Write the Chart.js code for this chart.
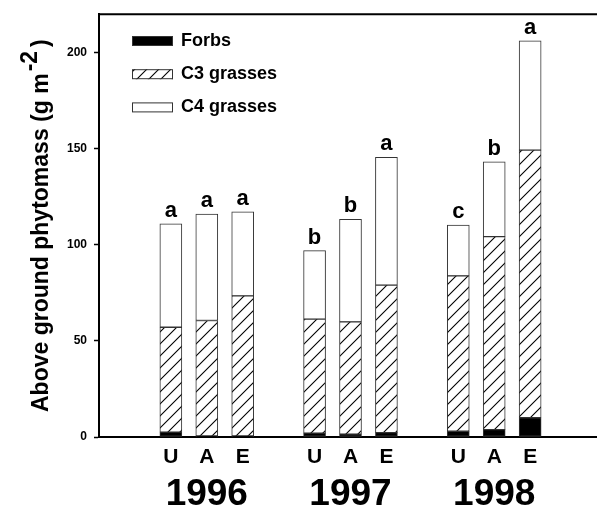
<!DOCTYPE html>
<html>
<head>
<meta charset="utf-8">
<script src="https://cdn.jsdelivr.net/npm/chart.js@4.4.1/dist/chart.umd.min.js"></script>
<style>
  html, body { margin: 0; padding: 0; background: #fff; overflow: hidden; }
  #wrap { width: 602px; height: 508px; }
</style>
</head>
<body>
<div id="wrap"><canvas id="chart"></canvas></div>
<script>
const years = ['1996', '1997', '1998'];
const treatments = ['U', 'A', 'E'];
// one value per bar: 1996 U,A,E / 1997 U,A,E / 1998 U,A,E  (g m-2)
const forbs = [2.5, 0.5, 0.5, 2.0, 1.5, 2.3, 3.0, 3.8, 10.0];
const c3Grasses = [54.6, 60.1, 72.9, 59.3, 58.4, 76.7, 80.8, 100.5, 139.3];
const c4Grasses = [53.8, 55.4, 43.8, 35.7, 53.3, 66.5, 26.5, 38.9, 56.8];
const letters = ['a', 'a', 'a', 'b', 'b', 'a', 'c', 'b', 'a'];
const yTicks = [0, 50, 100, 150, 200];

const FONT = '"Liberation Sans", Arial, Helvetica, sans-serif';
Chart.defaults.font.family = FONT;
Chart.defaults.color = '#000';

// lay the bars on a category axis, with empty slots between the years
const slotLabels = [];
const slotYears = [];
const slotIndex = [];
function blank() { slotLabels.push(''); slotYears.push(''); slotIndex.push(-1); }
blank(); blank();
years.forEach((yr, g) => {
  treatments.forEach((t, j) => {
    slotLabels.push(t);
    slotYears.push(j === 1 ? yr : '');
    slotIndex.push(g * 3 + j);
  });
  blank();
});
blank();
const spread = (arr) => slotIndex.map(i => (i < 0 ? null : arr[i]));

const ctx = document.getElementById('chart').getContext('2d');

function makeHatch() {
  const c = document.createElement('canvas');
  c.width = 12; c.height = 12;
  const g = c.getContext('2d');
  g.fillStyle = '#fff';
  g.fillRect(0, 0, 12, 12);
  g.strokeStyle = '#000';
  g.lineWidth = 1.1;
  g.beginPath();
  g.moveTo(0, 12); g.lineTo(12, 0);
  g.moveTo(-3, 3); g.lineTo(3, -3);
  g.moveTo(9, 15); g.lineTo(15, 9);
  g.stroke();
  return ctx.createPattern(c, 'repeat');
}
const hatch = makeHatch();

const legendItems = [
  { text: 'Forbs', fill: '#000' },
  { text: 'C3 grasses', fill: hatch },
  { text: 'C4 grasses', fill: '#fff' },
];

const extras = {
  id: 'extras',
  afterDraw(chart) {
    const c = chart.ctx;
    const area = chart.chartArea;
    c.save();

    // top frame line
    c.strokeStyle = '#000';
    c.lineWidth = 2;
    c.beginPath();
    c.moveTo(area.left - 1, area.top);
    c.lineTo(area.right, area.top);
    c.stroke();

    // letters over the bars
    const meta = chart.getDatasetMeta(2);
    c.fillStyle = '#000';
    c.font = 'bold 22px ' + FONT;
    c.textAlign = 'center';
    c.textBaseline = 'alphabetic';
    slotIndex.forEach((i, s) => {
      if (i < 0) return;
      const bar = meta.data[s];
      c.fillText(letters[i], bar.x, bar.y - 7);
    });

    // legend
    c.font = 'bold 18px ' + FONT;
    c.textAlign = 'left';
    c.textBaseline = 'middle';
    legendItems.forEach((item, k) => {
      const cy = 41 + k * 33.2;
      c.fillStyle = item.fill;
      c.fillRect(132, cy - 5, 41, 10);
      c.strokeStyle = '#333';
      c.lineWidth = 1;
      c.strokeRect(132.5, cy - 4.5, 40, 9);
      c.fillStyle = '#000';
      c.fillText(item.text, 181, cy);
    });

    // y axis title with superscript
    c.translate(48, 412);
    c.rotate(-Math.PI / 2);
    c.font = 'bold 23px ' + FONT;
    c.textBaseline = 'alphabetic';
    const main = 'Above ground phytomass (g m';
    c.fillText(main, 0, 0);
    const w1 = c.measureText(main).width;
    c.fillText('-2', w1 + 2, -11);
    const w2 = c.measureText('-2').width;
    c.fillText(')', w1 + w2 + 6, 0);
    c.restore();
  }
};

const barCommon = {
  borderColor: '#333',
  borderWidth: 1,
  borderSkipped: false,
  barThickness: 22,
};

function fitX(height) {
  return (s) => {
    s.height = height;
    s.paddingLeft = 0;
    s.paddingRight = 0;
  };
}

new Chart(ctx, {
  type: 'bar',
  data: {
    labels: slotLabels,
    datasets: [
      { label: 'Forbs', data: spread(forbs), backgroundColor: '#000', ...barCommon },
      { label: 'C3 grasses', data: spread(c3Grasses), backgroundColor: hatch, ...barCommon },
      { label: 'C4 grasses', data: spread(c4Grasses), backgroundColor: '#fff', ...barCommon },
    ],
  },
  options: {
    responsive: true,
    maintainAspectRatio: false,
    animation: false,
    layout: { padding: { top: 13, left: 0, right: 0, bottom: 0 } },
    plugins: {
      legend: { display: false },
      tooltip: { enabled: false },
    },
    scales: {
      x: {
        type: 'category',
        stacked: true,
        offset: false,
        min: 0,
        max: slotLabels.length - 1,
        weight: 0,
        afterFit: fitX(32),
        grid: { display: false, drawTicks: false },
        border: { display: true, color: '#000', width: 2 },
        ticks: {
          autoSkip: false,
          maxRotation: 0,
          padding: 8,
          font: { size: 21, weight: 'bold' },
          color: '#000',
        },
      },
      x2: {
        type: 'category',
        labels: slotYears,
        position: 'bottom',
        offset: false,
        min: 0,
        max: slotYears.length - 1,
        weight: 1,
        afterFit: fitX(39),
        grid: { display: false, drawTicks: false },
        border: { display: false },
        ticks: {
          autoSkip: false,
          maxRotation: 0,
          padding: 4,
          font: { size: 37, weight: 'bold' },
          color: '#000',
        },
      },
      y: {
        stacked: true,
        min: 0,
        max: 220,
        afterFit: (s) => { s.width = 99; },
        afterBuildTicks: (s) => { s.ticks = yTicks.map(v => ({ value: v })); },
        grid: { drawOnChartArea: false, drawTicks: true, tickLength: 5, tickColor: '#000', tickWidth: 1.5 },
        border: { display: true, color: '#000', width: 2 },
        ticks: {
          padding: 7,
          font: { size: 12, weight: 'bold' },
          color: '#000',
        },
      },
    },
  },
  plugins: [extras],
});
</script>
</body>
</html>
